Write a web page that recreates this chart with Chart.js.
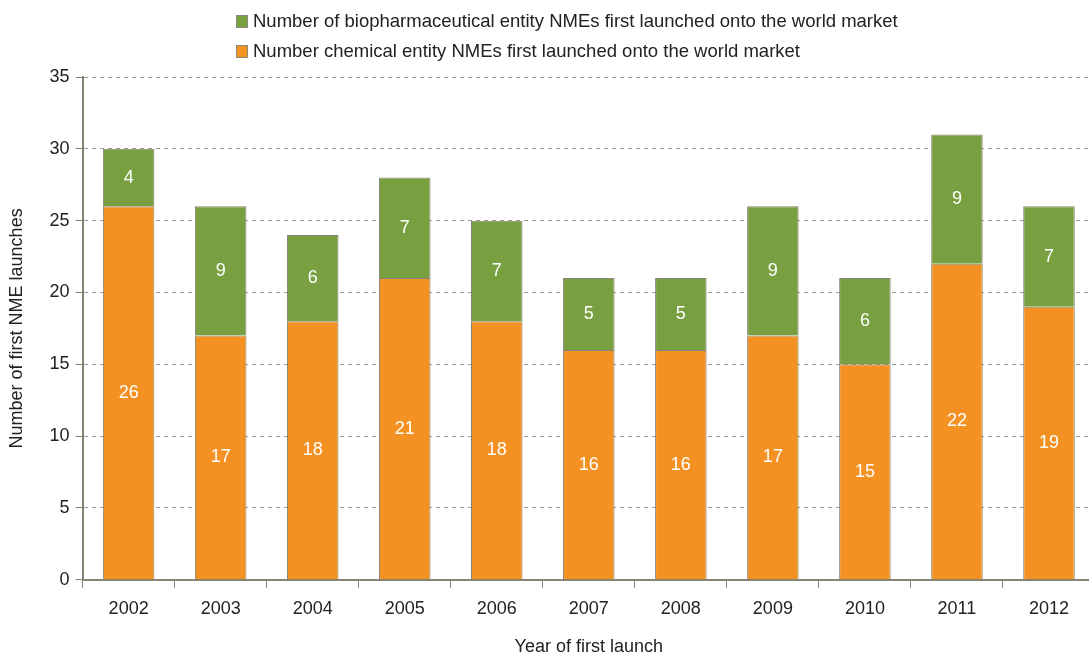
<!DOCTYPE html>
<html>
<head>
<meta charset="utf-8">
<script src="https://cdn.jsdelivr.net/npm/chart.js@4"></script>
<style>
  body { margin: 0; background: #fff; font-family: "Liberation Sans", Arial, sans-serif; }
  #wrap { position: relative; width: 1089px; height: 653px; overflow: hidden; }
  #legend { position: absolute; left: 236px; top: 6px; font-size: 18.5px; color: #222; }
  #legend .item { display: flex; align-items: center; height: 30px; }
  #legend .box { width: 12px; height: 13px; border: 1px solid #8c8a7c; margin-right: 5px; box-sizing: border-box; }
</style>
</head>
<body>
<div id="wrap">
  <canvas class="chart" width="1095" height="658"></canvas>
  <div id="legend"></div>
</div>
<script>
const years = ['2002', '2003', '2004', '2005', '2006', '2007', '2008', '2009', '2010', '2011', '2012'];
const chemical = [26, 17, 18, 21, 18, 16, 16, 17, 15, 22, 19];
const biopharma = [4, 9, 6, 7, 7, 5, 5, 9, 6, 9, 7];

const ORANGE = '#f39223';
const GREEN = '#78a040';
const EDGE = '#858374';
const FONT = '"Liberation Sans", Arial, sans-serif';

// white numbers in the middle of each segment
const barLabels = {
  id: 'barLabels',
  afterDatasetsDraw(chart) {
    const c = chart.ctx;
    c.save();
    c.fillStyle = '#fff';
    c.font = '18px ' + FONT;
    c.textAlign = 'center';
    c.textBaseline = 'middle';
    chart.data.datasets.forEach(function(ds, i) {
      chart.getDatasetMeta(i).data.forEach(function(bar, j) {
        c.fillText(ds.data[j], bar.x, (bar.y + bar.base) / 2);
      });
    });
    c.restore();
  }
};

var ctx = document.querySelector('.chart');
var chart = new Chart(ctx, {
  type: 'bar',
  data: {
    labels: years,
    datasets: [
      {
        label: 'Number chemical entity NMEs first launched onto the world market',
        data: chemical,
        backgroundColor: ORANGE,
        borderColor: EDGE,
        borderWidth: 1
      },
      {
        label: 'Number of biopharmaceutical entity NMEs first launched onto the world market',
        data: biopharma,
        backgroundColor: GREEN,
        borderColor: EDGE,
        borderWidth: 1
      }
    ]
  },
  options: {
    responsive: false,
    animation: false,
    layout: { padding: { top: 77, right: 0, bottom: 0, left: 6 } },
    datasets: { bar: { barPercentage: 0.56, categoryPercentage: 1 } },
    plugins: {
      legend: { display: false },
      tooltip: { enabled: false }
    },
    scales: {
      x: {
        stacked: true,
        grid: { offset: true, drawOnChartArea: false, drawTicks: true, tickLength: 8, color: EDGE },
        border: { color: EDGE, width: 2 },
        ticks: { color: '#222', font: { family: FONT, size: 18 }, padding: 10 },
        title: { display: true, text: 'Year of first launch', color: '#222', font: { family: FONT, size: 18 }, padding: { top: 7, bottom: 0 } }
      },
      y: {
        stacked: true,
        min: 0,
        max: 35,
        ticks: { stepSize: 5, color: '#222', font: { family: FONT, size: 18 }, padding: 6 },
        grid: { color: '#999', tickLength: 7, tickColor: EDGE, tickBorderDash: [] },
        border: { color: EDGE, width: 2, dash: [4, 4] },
        title: { display: true, text: 'Number of first NME launches', color: '#222', font: { family: FONT, size: 18 }, padding: { top: 0, bottom: 16 } }
      }
    }
  },
  plugins: [barLabels]
});

// legend: biopharmaceutical first, left aligned rows
var legend = document.getElementById('legend');
chart.data.datasets.slice().reverse().forEach(function(ds) {
  var row = document.createElement('div');
  row.className = 'item';
  var box = document.createElement('span');
  box.className = 'box';
  box.style.background = ds.backgroundColor;
  var txt = document.createElement('span');
  txt.textContent = ds.label;
  row.appendChild(box);
  row.appendChild(txt);
  legend.appendChild(row);
});
</script>
</body>
</html>
